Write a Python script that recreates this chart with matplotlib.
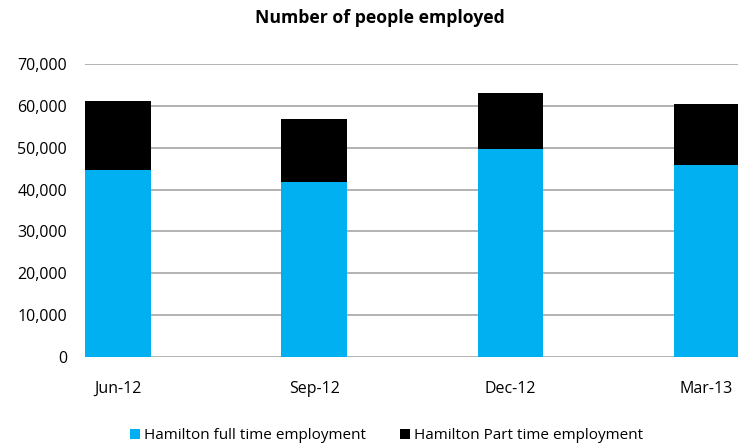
import matplotlib.pyplot as plt
from matplotlib.ticker import FuncFormatter
import numpy as np

quarters = ["Jun-12", "Sep-12", "Dec-12", "Mar-13"]
full_time = [44700, 41800, 49700, 45900]
part_time = [16400, 15000, 13400, 14500]

plt.rcParams["font.family"] = ["Open Sans", "DejaVu Sans"]

fig = plt.figure(figsize=(7.38, 4.48), dpi=100)
ax = fig.add_axes([85 / 738, 1 - 357 / 448, 1 - 85 / 738, (357 - 64) / 448])

x = np.arange(len(quarters))
ax.bar(x, full_time, width=0.335, color="#00b0f0", label="Hamilton full time employment", zorder=3)
ax.bar(x, part_time, bottom=full_time, width=0.335, color="#000000",
       label="Hamilton Part time employment", zorder=3)

ax.set_ylim(0, 70000)
ax.set_xlim(-0.168, 3.16)
ax.set_yticks(range(0, 70001, 10000))
ax.yaxis.set_major_formatter(FuncFormatter(lambda v, p: f"{int(v):,}"))
ax.set_xticks(x)
ax.set_xticklabels(quarters)
ax.tick_params(axis="both", length=0, labelsize=11.5)
ax.tick_params(axis="x", pad=17)
ax.tick_params(axis="y", pad=13)
ax.grid(axis="y", color="#a6a6a6", linewidth=1.2, zorder=0)
for s in ax.spines.values():
    s.set_visible(False)

fig.suptitle("Number of people employed", x=0.515, y=0.98, fontsize=12.7, fontweight="bold")
fig.legend(loc="lower center", bbox_to_anchor=(0.524, -0.02), ncol=2, frameon=False,
           fontsize=11, handlelength=0.65, handleheight=0.65, handletextpad=0.3, columnspacing=2.2)

fig.savefig("out.png", dpi=100)
